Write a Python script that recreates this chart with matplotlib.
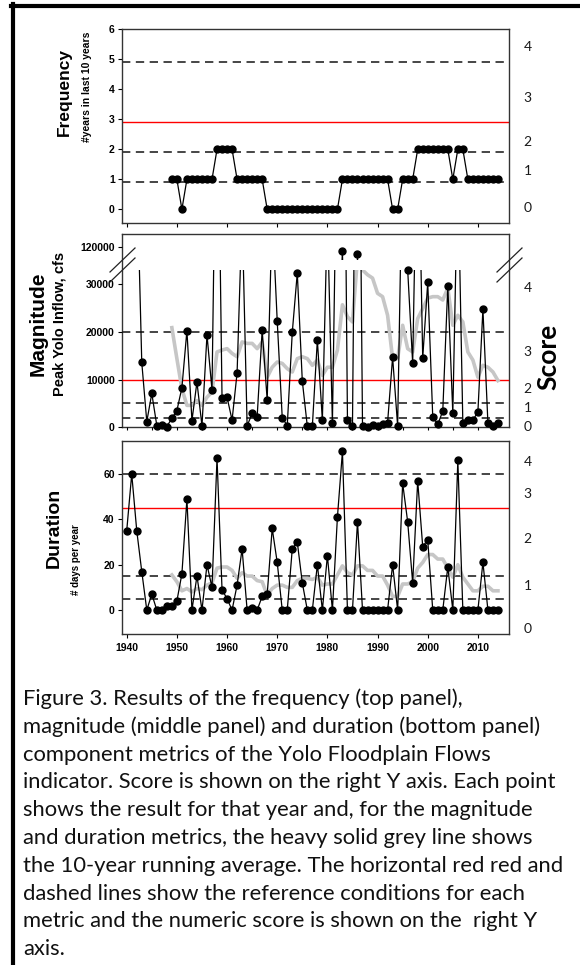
import numpy as np
import matplotlib.pyplot as plt
from matplotlib.lines import Line2D

plt.rcParams['font.family'] = ['Liberation Sans', 'DejaVu Sans']

W, H = 580, 965

years = np.arange(1940, 2015)
avg_years = np.arange(1949, 2015)

# number of years in last 10 years (1949-2014)
frequency = [1, 1, 0, 1, 1, 1, 1, 1, 1, 2,
             2, 2, 2, 1, 1, 1, 1, 1, 1, 0,
             0, 0, 0, 0, 0, 0, 0, 0, 0, 0,
             0, 0, 0, 0, 1, 1, 1, 1, 1, 1,
             1, 1, 1, 1, 0, 0, 1, 1, 1, 2,
             2, 2, 2, 2, 2, 2, 1, 2, 2, 1,
             1, 1, 1, 1, 1, 1]

# peak Yolo inflow, cfs (1940-2014); values above the break run off the top
magnitude = [55000, 75000, 55000, 13600, 1200, 7100, 350, 450, 150, 1900,
             3500, 8300, 20300, 1400, 9500, 300, 19400, 7800, 85000, 6100,
             6300, 1500, 11400, 45000, 300, 2900, 2200, 20400, 5700, 45000,
             22300, 2000, 350, 19900, 32400, 9700, 200, 200, 18300, 1500,
             45000, 800, 70000, 118300, 1500, 300, 117300, 200, 150, 400,
             200, 700, 1000, 14700, 300, 60000, 33100, 13400, 70000, 14500,
             30400, 2200, 600, 3400, 29700, 2900, 55000, 800, 1500, 1500,
             3200, 24800, 800, 200, 800]

# 10-year running average of magnitude (1949-2014)
magnitude_avg = [20900, 14400, 8100, 4600, 4600, 5600, 4600, 6300, 7400, 15800,
                 16200, 16500, 15500, 14800, 17900, 17600, 17600, 16500, 17900, 10500,
                 12600, 13700, 13400, 12300, 11600, 14400, 14800, 14400, 13000, 14100,
                 10900, 12600, 12600, 16200, 25700, 23200, 22100, 35500, 33000, 32000,
                 31300, 28100, 27400, 23500, 14400, 14400, 21400, 16500, 15800, 22800,
                 24900, 27100, 27400, 27400, 26700, 29200, 21400, 23500, 22100, 15800,
                 14100, 10500, 13000, 12600, 11600, 9800]

# days per year (1940-2014)
duration = [35, 60, 35, 17, 0, 7, 0, 0, 2, 2,
            4, 16, 49, 0, 15, 0, 20, 10, 67, 9,
            5, 0, 11, 27, 0, 1, 0, 6, 7, 36,
            21, 0, 0, 27, 30, 12, 0, 0, 20, 0,
            24, 0, 41, 70, 0, 0, 39, 0, 0, 0,
            0, 0, 0, 20, 0, 56, 39, 12, 57, 28,
            31, 0, 0, 0, 19, 0, 66, 0, 0, 0,
            0, 21, 0, 0, 0]

# 10-year running average of duration (1949-2014)
duration_avg = [15.5, 12.5, 8.5, 9.5, 8, 9.5, 9, 11, 12, 18.5,
                19, 19, 17.5, 14, 16.5, 15, 15, 13, 12.5, 6.5,
                9.5, 11, 11, 10, 10, 13, 14, 14, 13.5, 14.5,
                11, 11.5, 11.5, 15.5, 19.5, 16.5, 15.5, 19.5, 19.5, 17.5,
                17.5, 15, 15, 11, 6, 6, 11.5, 11.5, 12.5, 18.5,
                21, 24.5, 24.5, 22.5, 22.5, 18.5, 14.5, 20, 14.5, 11.5,
                8.5, 8.5, 10.5, 10.5, 8.5, 8.5]

# reference conditions
freq_dashed = [4.9, 1.9, 0.9]
freq_red = 2.9
mag_dashed = [20000, 5000, 2000]
mag_red = 10000
dur_dashed = [60, 15, 5]
dur_red = 45

# where the score labels sit on the right axis
score_labels = ['0', '1', '2', '3', '4']
freq_score_pos = [0.09, 1.31, 2.28, 3.76, 5.43]
mag_score_pos = [300, 4300, 8300, 15900, 29500]
dur_score_pos = [-7.8, 11.0, 31.9, 51.5, 65.7]

decades = np.arange(1940, 2011, 10)
XLIM = (1939, 2016.2)
LO_TOP = 33100

caption = [
    "Figure 3. Results of the frequency (top panel),",
    "magnitude (middle panel) and duration (bottom panel)",
    "component metrics of the Yolo Floodplain Flows",
    "indicator. Score is shown on the right Y axis. Each point",
    "shows the result for that year and, for the magnitude",
    "and duration metrics, the heavy solid grey line shows",
    "the 10-year running average. The horizontal red red and",
    "dashed lines show the reference conditions for each",
    "metric and the numeric score is shown on the  right Y",
    "axis.",
]


def px_box(left, top, right, bottom):
    return [left / W, 1 - bottom / H, (right - left) / W, (bottom - top) / H]


def fx(x):
    return x / W


def fy(y):
    return 1 - y / H


def add_refs(ax, dashed, red):
    for v in dashed:
        ax.axhline(v, color='#262626', lw=1.2, ls=(0, (5, 3.3)), zorder=1)
    ax.axhline(red, color='red', lw=1.0, zorder=1)


def style_frame(ax):
    for s in ax.spines.values():
        s.set_color('#333333')
        s.set_linewidth(1.0)


def left_ticks(ax, ticks):
    ax.set_yticks(ticks)
    ax.set_yticklabels([str(t) for t in ticks])
    ax.tick_params(axis='y', direction='out', length=3, width=0.8, pad=2, labelsize=7.5)
    for lbl in ax.get_yticklabels():
        lbl.set_fontweight('bold')


def add_score(ax, pos):
    tw = ax.twinx()
    tw.set_ylim(ax.get_ylim())
    tw.set_yticks(pos)
    tw.set_yticklabels(score_labels, fontfamily='Lato', fontsize=10, color='#1a1a1a')
    tw.tick_params(axis='y', length=0, pad=10.5)
    tw.set_frame_on(False)
    return tw


fig = plt.figure(figsize=(W / 100, H / 100), dpi=100)

# ---- top panel: frequency ----
ax1 = fig.add_axes(px_box(121.7, 29.3, 509, 222.8))
ax1.set_xlim(XLIM)
ax1.set_ylim(-0.45, 6)
add_refs(ax1, freq_dashed, freq_red)
ax1.plot(avg_years, frequency, color='black', lw=0.9, marker='o', ms=5,
         zorder=3, clip_on=False)
left_ticks(ax1, [0, 1, 2, 3, 4, 5, 6])
ax1.set_xticks(decades)
ax1.set_xticklabels([])
ax1.tick_params(axis='x', direction='out', length=3, width=0.8)
style_frame(ax1)
add_score(ax1, freq_score_pos)

# ---- middle panel: magnitude, with a broken y axis ----
frame = fig.add_axes(px_box(121.7, 234.3, 509, 427.3))
frame.set_xticks([])
frame.set_yticks([])
style_frame(frame)

lo = fig.add_axes(px_box(121.7, 269.5, 509, 427.3))
lo.set_xlim(XLIM)
lo.set_ylim(0, LO_TOP)
lo.patch.set_visible(False)
for s in lo.spines.values():
    s.set_visible(False)
add_refs(lo, mag_dashed, mag_red)
lo.plot(avg_years, magnitude_avg, color='#c6c6c6', lw=2.6, zorder=2,
        solid_joinstyle='round')
mag = np.array(magnitude, dtype=float)
lo.plot(years, mag, color='black', lw=0.9, zorder=3)
lo.plot(years, np.where(mag <= LO_TOP, mag, np.nan), 'o', color='black', ms=5,
        zorder=4, clip_on=False)
left_ticks(lo, [0, 10000, 20000, 30000])
lo.set_xticks(np.arange(1940, 2015, 5))
lo.set_xticklabels([])
lo.tick_params(axis='x', direction='out', length=2.5, width=0.8)
add_score(lo, mag_score_pos)

hi = fig.add_axes(px_box(121.7, 234.3, 509, 260))
hi.set_xlim(XLIM)
hi.set_ylim(114600, 125530)
hi.patch.set_visible(False)
for s in hi.spines.values():
    s.set_visible(False)
hi.plot(years, mag, color='black', lw=0.9, zorder=3)
hi.plot(years, mag, 'o', color='black', ms=5, zorder=4)
left_ticks(hi, [120000])
hi.set_xticks([])

# break marks on both sides
for xc in (122.5, 509.5):
    for dy in (0, 10):
        fig.add_artist(Line2D([fx(xc - 12.5), fx(xc + 12.5)],
                              [fy(272 + dy), fy(248 + dy)],
                              color='#222222', lw=0.9))

# ---- bottom panel: duration ----
ax3 = fig.add_axes(px_box(121.7, 441, 509, 634.3))
ax3.set_xlim(XLIM)
ax3.set_ylim(-10.7, 74.6)
add_refs(ax3, dur_dashed, dur_red)
ax3.plot(avg_years, duration_avg, color='#c6c6c6', lw=2.6, zorder=2,
         solid_joinstyle='round')
ax3.plot(years, duration, color='black', lw=0.9, marker='o', ms=5, zorder=3)
left_ticks(ax3, [0, 20, 40, 60])
ax3.set_xticks(decades)
ax3.set_xticklabels([str(d) for d in decades])
ax3.tick_params(axis='x', direction='out', length=3, width=0.8, pad=3, labelsize=7.5)
for lbl in ax3.get_xticklabels():
    lbl.set_fontweight('bold')
style_frame(ax3)
add_score(ax3, dur_score_pos)

# ---- axis titles ----
fig.text(fx(64), fy(92), 'Frequency', rotation=90, ha='center', va='center',
         fontsize=12.5, fontweight='bold')
fig.text(fx(87), fy(87), '#years in last 10 years', rotation=90, ha='center',
         va='center', fontsize=7.5, fontweight='bold')
fig.text(fx(38), fy(324), 'Magnitude', rotation=90, ha='center', va='center',
         fontsize=15, fontweight='bold')
fig.text(fx(60), fy(324), 'Peak Yolo Inflow, cfs', rotation=90, ha='center',
         va='center', fontsize=10.5, fontweight='bold')
fig.text(fx(54), fy(528), 'Duration', rotation=90, ha='center', va='center',
         fontsize=14, fontweight='bold')
fig.text(fx(76), fy(560), '# days per year', rotation=90, ha='center',
         va='center', fontsize=7, fontweight='bold')
fig.text(fx(548), fy(357), 'Score', rotation=90, ha='center', va='center',
         fontsize=19, fontweight='bold', family='Lato')

# ---- caption ----
for i, line in enumerate(caption):
    fig.text(fx(23), fy(697 + i * 27.8), line, ha='left', va='center_baseline',
             fontsize=15.8, family='Lato', color='#111111')

# outer border of the figure box
fig.add_artist(Line2D([fx(13), fx(13)], [fy(4), fy(H + 2)], color='black', lw=3))
fig.add_artist(Line2D([fx(11), fx(W + 2)], [fy(6), fy(6)], color='black', lw=3))

fig.savefig('out.png', dpi=100)
